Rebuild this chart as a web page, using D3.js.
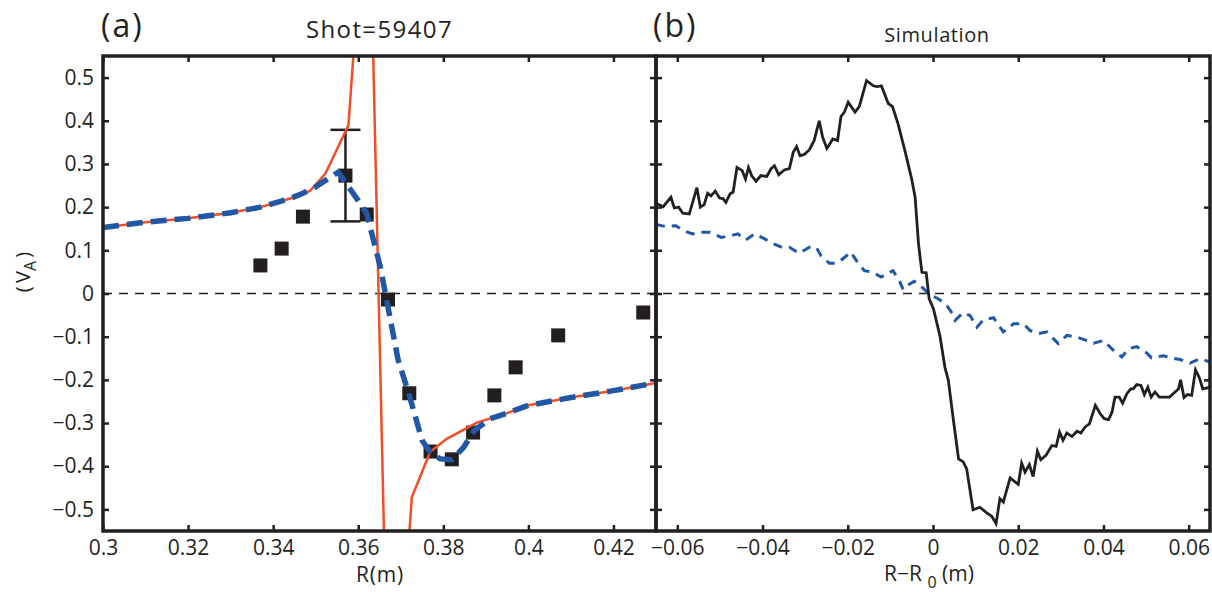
<!DOCTYPE html>
<html>
<head>
<meta charset="utf-8">
<script src="https://cdn.jsdelivr.net/npm/d3@7"></script>
<style>
  body { margin: 0; background: #fff; }
  text { font-family: "Open Sans", sans-serif; fill: #231f20; }
</style>
</head>
<body>
<svg id="chart" width="1212" height="592"></svg>
<script>
/* ticks */
const yTicks = [-0.5, -0.4, -0.3, -0.2, -0.1, 0, 0.1, 0.2, 0.3, 0.4, 0.5];
const xTicksA = [0.3, 0.32, 0.34, 0.36, 0.38, 0.4, 0.42];
const xTicksB = [-0.06, -0.04, -0.02, 0, 0.02, 0.04, 0.06];

/* (a) measured points, shot 59407 */
const measR = [0.337, 0.342, 0.347, 0.357, 0.362, 0.367, 0.372, 0.377, 0.382, 0.387, 0.392, 0.397, 0.407, 0.427];
const measV = [0.065, 0.104, 0.178, 0.273, 0.183, -0.014, -0.231, -0.366, -0.384, -0.322, -0.236, -0.171, -0.097, -0.044];
const errR = 0.357, errLo = 0.167, errHi = 0.379;

/* (a) red model (goes off-scale near the resonance) */
const redR = [0.300, 0.310, 0.320, 0.330, 0.337, 0.344, 0.3487, 0.3523, 0.3577, 0.3624, 0.3675, 0.3726, 0.3769, 0.3809, 0.3879, 0.395, 0.400, 0.410, 0.420, 0.430];
const redV = [0.153, 0.165, 0.174, 0.187, 0.200, 0.220, 0.238, 0.278, 0.390, 1.04, -1.187, -0.472, -0.367, -0.336, -0.299, -0.277, -0.259, -0.241, -0.225, -0.207];

/* (a) blue dashed model */
const blueR = [0.300, 0.310, 0.320, 0.330, 0.337, 0.344, 0.347, 0.350, 0.3523, 0.3553, 0.3600, 0.3620, 0.3652, 0.3667, 0.3694, 0.3719, 0.375, 0.377, 0.3793, 0.382, 0.3848, 0.3873, 0.391, 0.395, 0.400, 0.410, 0.420, 0.430];
const blueV = [0.153, 0.165, 0.174, 0.187, 0.200, 0.220, 0.232, 0.247, 0.262, 0.281, 0.215, 0.185, 0.061, -0.016, -0.155, -0.232, -0.340, -0.369, -0.383, -0.385, -0.356, -0.317, -0.290, -0.277, -0.259, -0.241, -0.225, -0.207];

/* (b) simulation, solid black */
const simX = [-0.0650, -0.0633, -0.0615, -0.0607, -0.0597, -0.0587, -0.0572, -0.0554, -0.0546, -0.0537, -0.0529, -0.0521, -0.0511, -0.0501, -0.0493, -0.0486, -0.0476, -0.0469, -0.0460, -0.0448, -0.0440, -0.0433, -0.0425, -0.0415, -0.0404, -0.0390, -0.0380, -0.0372, -0.0362, -0.0349, -0.0337, -0.0328, -0.0320, -0.0312, -0.0302, -0.0290, -0.0279, -0.0267, -0.0259, -0.0249, -0.0235, -0.0224, -0.0216, -0.0208, -0.0199, -0.0183, -0.0173, -0.0156, -0.0140, -0.0131, -0.0121, -0.0105, -0.0095, -0.0082, -0.0066, -0.0050, -0.0042, -0.0034, -0.0026, -0.0016, -0.0009, 0.0001, 0.0016, 0.0028, 0.0036, 0.0048, 0.0060, 0.0071, 0.0079, 0.0094, 0.0110, 0.0126, 0.0138, 0.0148, 0.0157, 0.0165, 0.0181, 0.0200, 0.0208, 0.0216, 0.0226, 0.0235, 0.0245, 0.0253, 0.0265, 0.0279, 0.0289, 0.0297, 0.0305, 0.0314, 0.0326, 0.0338, 0.0347, 0.0357, 0.0367, 0.0381, 0.0392, 0.0402, 0.0412, 0.0420, 0.0427, 0.0437, 0.0445, 0.0455, 0.0464, 0.0470, 0.0478, 0.0488, 0.0496, 0.0504, 0.0512, 0.0521, 0.0531, 0.0555, 0.0568, 0.0576, 0.0581, 0.0589, 0.0597, 0.0607, 0.0616, 0.0625, 0.0633, 0.0646, 0.0650];
const simV = [0.209, 0.201, 0.223, 0.198, 0.200, 0.186, 0.184, 0.245, 0.200, 0.206, 0.232, 0.226, 0.237, 0.221, 0.220, 0.211, 0.231, 0.235, 0.292, 0.285, 0.265, 0.292, 0.272, 0.260, 0.273, 0.271, 0.289, 0.296, 0.275, 0.286, 0.289, 0.327, 0.340, 0.319, 0.322, 0.333, 0.354, 0.400, 0.362, 0.336, 0.358, 0.354, 0.410, 0.420, 0.443, 0.420, 0.433, 0.493, 0.481, 0.479, 0.481, 0.440, 0.433, 0.393, 0.331, 0.265, 0.223, 0.115, 0.049, 0.048, -0.012, -0.035, -0.097, -0.171, -0.201, -0.294, -0.383, -0.390, -0.406, -0.501, -0.495, -0.508, -0.516, -0.533, -0.475, -0.483, -0.427, -0.442, -0.393, -0.414, -0.396, -0.424, -0.365, -0.385, -0.375, -0.352, -0.354, -0.321, -0.340, -0.323, -0.331, -0.319, -0.323, -0.309, -0.302, -0.259, -0.278, -0.290, -0.292, -0.275, -0.240, -0.240, -0.254, -0.232, -0.221, -0.221, -0.211, -0.213, -0.234, -0.217, -0.240, -0.228, -0.240, -0.240, -0.228, -0.221, -0.200, -0.241, -0.234, -0.236, -0.177, -0.195, -0.221, -0.218, -0.215];

/* (b) simulation, blue dashed */
const sim2X = [-0.0650, -0.0627, -0.0603, -0.0587, -0.0564, -0.0544, -0.0525, -0.0497, -0.0474, -0.0458, -0.0439, -0.0419, -0.0396, -0.0376, -0.0353, -0.0337, -0.0314, -0.0290, -0.0274, -0.0263, -0.0243, -0.0228, -0.0212, -0.0193, -0.0177, -0.0161, -0.0141, -0.0122, -0.0094, -0.0079, -0.0070, -0.0055, -0.0044, -0.0024, -0.0009, 0.0015, 0.0031, 0.0046, 0.0052, 0.0070, 0.0087, 0.0103, 0.0118, 0.0142, 0.0165, 0.0189, 0.0212, 0.0228, 0.0251, 0.0267, 0.0294, 0.0314, 0.0338, 0.0361, 0.0377, 0.0400, 0.0424, 0.0443, 0.0459, 0.0478, 0.0502, 0.0513, 0.0541, 0.0556, 0.0580, 0.0603, 0.0627, 0.0650];
const sim2V = [0.160, 0.155, 0.157, 0.146, 0.138, 0.142, 0.142, 0.130, 0.134, 0.138, 0.124, 0.138, 0.127, 0.116, 0.106, 0.107, 0.093, 0.107, 0.107, 0.088, 0.070, 0.070, 0.080, 0.096, 0.072, 0.053, 0.049, 0.038, 0.053, 0.030, 0.009, 0.022, 0.028, 0.013, -0.001, -0.014, -0.026, -0.047, -0.062, -0.045, -0.051, -0.078, -0.061, -0.056, -0.089, -0.070, -0.070, -0.086, -0.092, -0.089, -0.116, -0.097, -0.101, -0.109, -0.115, -0.109, -0.132, -0.147, -0.128, -0.123, -0.138, -0.149, -0.144, -0.149, -0.153, -0.161, -0.151, -0.159];

const ink = "#231f20";
const red = "#f04e23";
const blue = "#2157a4";

const svg = d3.select("#chart");
const yTop = 56, yBottom = 531;
const panelA = { x0: 103, x1: 656 };
const panelB = { x0: 656, x1: 1210 };

const y = d3.scaleLinear().domain([-0.55, 0.55]).range([yBottom, yTop]);
const xA = d3.scaleLinear().domain([0.3, 0.43]).range([panelA.x0, panelA.x1]);
const xB = d3.scaleLinear().domain([-0.065, 0.065]).range([panelB.x0, panelB.x1]);

// matlab style labels: 0.3 not 0.30, real minus sign
const fmt = d => (+d.toFixed(3)).toString().replace("-", "\u2212");

// clip areas
const defs = svg.append("defs");
[["clipA", panelA], ["clipB", panelB]].forEach(([id, p]) => {
  defs.append("clipPath").attr("id", id)
    .append("rect").attr("x", p.x0).attr("y", yTop).attr("width", p.x1 - p.x0).attr("height", yBottom - yTop);
});

// zero line over both panels
svg.append("line")
  .attr("x1", panelA.x0).attr("x2", panelB.x1)
  .attr("y1", y(0)).attr("y2", y(0))
  .attr("stroke", ink).attr("stroke-width", 1.3)
  .attr("stroke-dasharray", "9,7");

/* panel (a) */
const gA = svg.append("g").attr("clip-path", "url(#clipA)");

gA.selectAll("rect.meas")
  .data(measR.map((r, i) => ({ r, v: measV[i] })))
  .join("rect")
  .attr("class", "meas")
  .attr("x", d => xA(d.r) - 7).attr("y", d => y(d.v) - 7)
  .attr("width", 14).attr("height", 14)
  .attr("fill", ink);

// error bar
const eb = gA.append("g").attr("stroke", ink).attr("stroke-width", 2.5);
eb.append("line").attr("x1", xA(errR)).attr("x2", xA(errR)).attr("y1", y(errLo)).attr("y2", y(errHi));
[errLo, errHi].forEach(v => {
  eb.append("line").attr("x1", xA(errR) - 15).attr("x2", xA(errR) + 15).attr("y1", y(v)).attr("y2", y(v));
});

const lineA = d3.line().x(d => xA(d[0])).y(d => y(d[1]));
gA.append("path")
  .attr("d", lineA(redR.map((r, i) => [r, redV[i]])))
  .attr("fill", "none").attr("stroke", red).attr("stroke-width", 2.5)
  .attr("stroke-linejoin", "round");
gA.append("path")
  .attr("d", lineA(blueR.map((r, i) => [r, blueV[i]])))
  .attr("fill", "none").attr("stroke", blue).attr("stroke-width", 5.5)
  .attr("stroke-dasharray", "16,8");

/* panel (b) */
const gB = svg.append("g").attr("clip-path", "url(#clipB)");
const lineB = d3.line().x(d => xB(d[0])).y(d => y(d[1]));
gB.append("path")
  .attr("d", lineB(sim2X.map((r, i) => [r, sim2V[i]])))
  .attr("fill", "none").attr("stroke", blue).attr("stroke-width", 3)
  .attr("stroke-dasharray", "9,7");
gB.append("path")
  .attr("d", lineB(simX.map((r, i) => [r, simV[i]])))
  .attr("fill", "none").attr("stroke", ink).attr("stroke-width", 2.8)
  .attr("stroke-linejoin", "miter");

/* axes: ticks point inward, box on */
function styleAxis(g) {
  g.select(".domain").remove();
  g.selectAll(".tick line").attr("stroke", ink).attr("stroke-width", 2.5);
  g.selectAll(".tick text").attr("fill", ink).style("font-size", "21px")
    .style("font-family", "'Open Sans', sans-serif");
}

function panelAxes(x, p, xTicks, showY) {
  svg.append("g").attr("transform", `translate(0,${yBottom})`)
    .call(d3.axisBottom(x).tickValues(xTicks).tickSize(-6).tickPadding(9).tickFormat(fmt))
    .call(styleAxis);
  svg.append("g").attr("transform", `translate(0,${yTop})`)
    .call(d3.axisTop(x).tickValues(xTicks).tickSize(-6).tickFormat(""))
    .call(styleAxis);
  svg.append("g").attr("transform", `translate(${p.x0},0)`)
    .call(d3.axisLeft(y).tickValues(yTicks).tickSize(-6).tickPadding(9).tickFormat(showY ? fmt : ""))
    .call(styleAxis);
  svg.append("g").attr("transform", `translate(${p.x1},0)`)
    .call(d3.axisRight(y).tickValues(yTicks).tickSize(-6).tickFormat(""))
    .call(styleAxis);
  svg.append("rect")
    .attr("x", p.x0).attr("y", yTop).attr("width", p.x1 - p.x0).attr("height", yBottom - yTop)
    .attr("fill", "none").attr("stroke", ink).attr("stroke-width", 3.5);
}
panelAxes(xA, panelA, xTicksA, true);
panelAxes(xB, panelB, xTicksB, false);

/* titles and labels */
svg.append("text").attr("x", 101).attr("y", 37).style("font-size", "32px")
  .style("letter-spacing", "2px").text("(a)");
svg.append("text").attr("x", 653).attr("y", 37).style("font-size", "32px")
  .style("letter-spacing", "2px").text("(b)");
svg.append("text").attr("x", (panelA.x0 + panelA.x1) / 2).attr("y", 38)
  .attr("text-anchor", "middle").style("font-size", "24px")
  .style("letter-spacing", "1.4px").text("Shot=59407");
svg.append("text").attr("x", 937).attr("y", 42)
  .attr("text-anchor", "middle").style("font-size", "20px")
  .style("letter-spacing", "0.6px").text("Simulation");

svg.append("text").attr("x", 380).attr("y", 582)
  .attr("text-anchor", "middle").style("font-size", "21px")
  .style("letter-spacing", "0.8px").text("R(m)");

const xl = svg.append("text").attr("x", 929).attr("y", 581)
  .attr("text-anchor", "middle").style("font-size", "21px");
xl.append("tspan").text("R\u2212R ");
xl.append("tspan").attr("dy", 7).style("font-size", "16px").text("0");
xl.append("tspan").attr("dy", -7).text(" (m)");

const yl = svg.append("text")
  .attr("transform", "translate(30,272) rotate(-90)")
  .attr("text-anchor", "middle").style("font-size", "20px");
yl.append("tspan").text("(\u2009V");
yl.append("tspan").attr("dy", 6).style("font-size", "16px").text("A");
yl.append("tspan").attr("dy", -6).text("\u2009)");
</script>
</body>
</html>
